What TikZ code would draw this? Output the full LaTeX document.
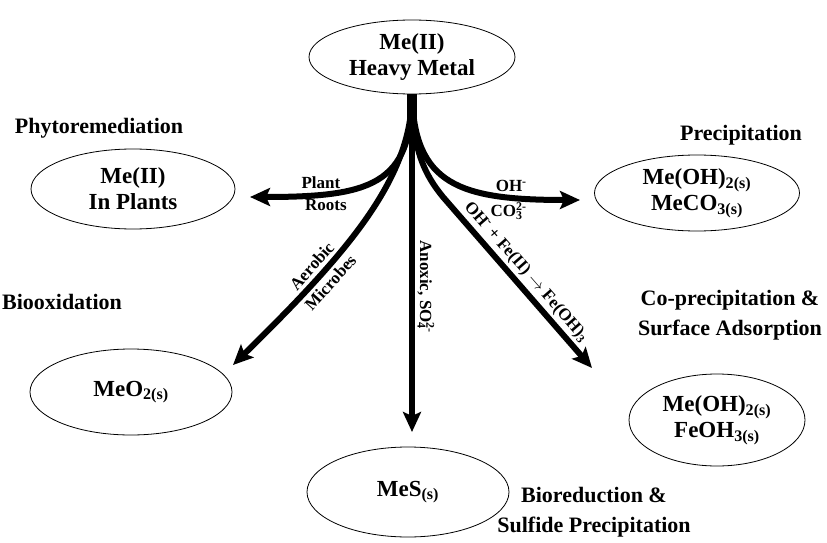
\documentclass[tikz,border=0pt]{standalone}
\usepackage{fontspec}
\setmainfont{Liberation Serif}
\usetikzlibrary{arrows.meta,shapes.geometric}
\tikzset{
  blob/.style={draw, ellipse, line width=0.8pt, inner sep=0pt, align=center,
    font=\bfseries\fontsize{23}{26}\selectfont},
  heading/.style={align=center, font=\bfseries\fontsize{22}{30}\selectfont},
  flow/.style={line width=6pt, -{Stealth[length=20pt,width=18pt,inset=4pt]}},
  tag/.style={font=\bfseries\fontsize{17}{18}\selectfont, inner sep=2.5pt},
}
\begin{document}
\begin{tikzpicture}[x=1pt,y=-1pt]
  \useasboundingbox (0,0) rectangle (827,543);
  % ellipses
  \node[blob, minimum width=206, minimum height=74](top)at(412,57){Me(II)\\Heavy Metal};
  \node[blob, minimum width=204, minimum height=80](inplants)at(133,189){Me(II)\\In Plants};
  \node[blob, minimum width=205, minimum height=76](precip)at(697,193){Me(OH)\textsubscript{2(s)}\\MeCO\textsubscript{3(s)}};
  \node[blob, minimum width=202, minimum height=86](meo)at(131,392){MeO\textsubscript{2(s)}};
  \node[blob, minimum width=176, minimum height=92](copre)at(717,420){Me(OH)\textsubscript{2(s)}\\FeOH\textsubscript{3(s)}};
  \node[blob, minimum width=202, minimum height=90](mes)at(408,492){MeS\textsubscript{(s)}};
  % headings
  \node[heading](phyto)at(99,128){Phytoremediation};
  \node[heading](precipT)at(741,135){Precipitation};
  \node[heading](bioox)at(62,302){Biooxidation};
  \node[heading](copreT)at(730,315){Co-precipitation \&\\Surface Adsorption};
  \node[heading](biored)at(594,512){Bioreduction \&\\Sulfide Precipitation};
  % arrow ends
  \coordinate(rootsEnd)at(250,197);
  \coordinate(precipEnd)at(580,200);
  \coordinate(aerEnd)at(233,365);
  \coordinate(anoxEnd)at(412,432);
  \coordinate(feEnd)at(592,368);
  \coordinate(fork)at(412,125);
  % arrows
  \draw[line width=10pt](top.south)--(fork);
  \draw[flow](top.south)..controls(412,185)and(370,197)..(rootsEnd)
    node[tag,pos=0.77,above]{Plant}node[tag,pos=0.75,below]{Roots};
  \draw[flow](top.south)..controls(414,185)and(460,200)..(precipEnd)
    node[tag,pos=0.78,above]{OH\textsuperscript{-}}node[tag,pos=0.77,below]{CO\rlap{\textsubscript{3}}\textsuperscript{2-}};
  \draw[flow](top.south)..controls(412,180)and(345,255)..(aerEnd)
    node[tag,pos=0.7,sloped,above,inner sep=3.5pt]{Aerobic}node[tag,pos=0.7,sloped,below,inner sep=3.5pt]{Microbes};
  \draw[flow](top.south)--(anoxEnd)
    node[tag,pos=0.57,rotate=-90,anchor=south]{Anoxic, SO\rlap{\textsubscript{4}}\textsuperscript{2-}};
  \draw[flow](top.south)..controls(412,150)and(425,175)..(443,197)--(feEnd)
    node[tag,pos=0.49,sloped,above]{OH\textsuperscript{-} + Fe(II) $\rightarrow$ Fe(OH)\textsubscript{3}};
\end{tikzpicture}
\end{document}
